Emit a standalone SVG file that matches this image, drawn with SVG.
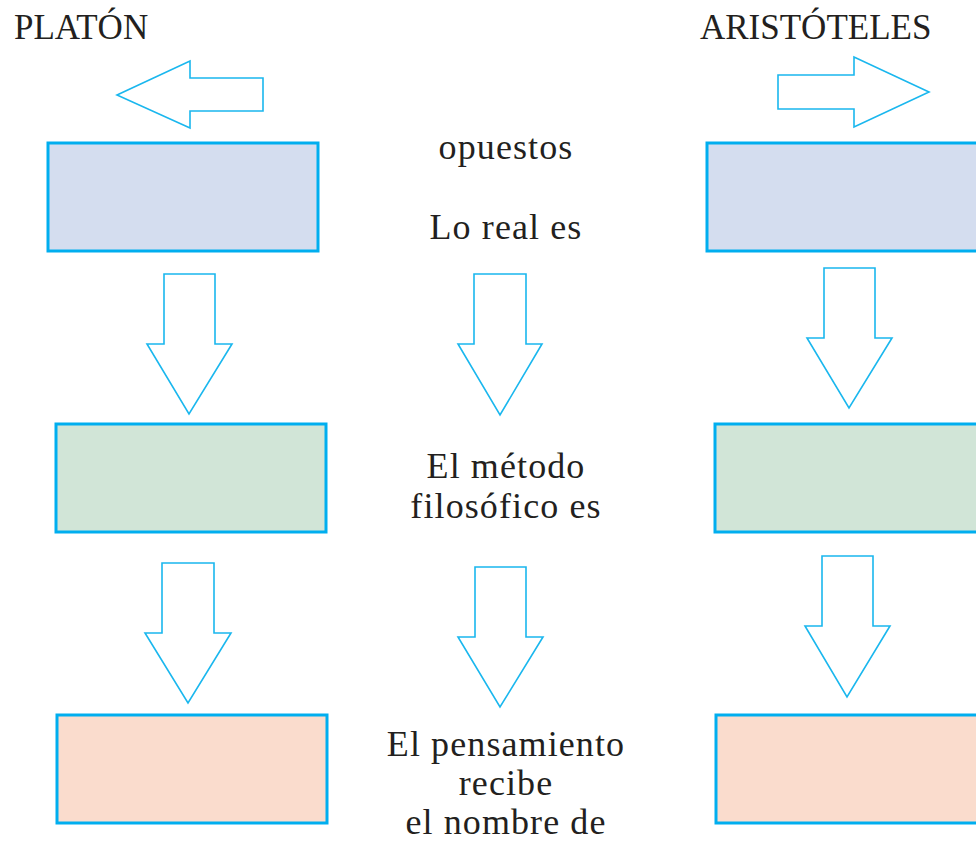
<svg xmlns="http://www.w3.org/2000/svg" width="976" height="843" viewBox="0 0 976 843">
<style>
.bg{fill:#ffffff}
.box{stroke:#00aeef;stroke-width:3}
.blue{fill:#d4ddef}
.green{fill:#d1e5d7}
.pink{fill:#fadccd}
.arr{fill:#ffffff;stroke:#1ab7ee;stroke-width:1.6;stroke-linejoin:miter}
.title{font-family:"Liberation Serif","Times New Roman",serif;font-size:35px;fill:#231f20}
.lbl{font-family:"Liberation Serif","Times New Roman",serif;font-size:36px;fill:#231f20;text-anchor:middle;letter-spacing:1.1px}
</style>
<rect class="bg" x="0" y="0" width="976" height="843"/>
<g id="title-platon"><text class="title" x="14" y="39">PLATÓN</text></g>
<g id="title-aristoteles"><text class="title" x="700" y="39">ARISTÓTELES</text></g>

<g id="platon-real"><rect class="box blue" x="48" y="143" width="270" height="108"/></g>
<g id="platon-metodo"><rect class="box green" x="56" y="424" width="270" height="108"/></g>
<g id="platon-pensamiento"><rect class="box pink" x="57" y="715" width="270" height="108"/></g>

<g id="aristoteles-real"><rect class="box blue" x="707" y="143" width="280" height="108"/></g>
<g id="aristoteles-metodo"><rect class="box green" x="715" y="424" width="280" height="108"/></g>
<g id="aristoteles-pensamiento"><rect class="box pink" x="716" y="715" width="280" height="108"/></g>

<g id="label-opuestos"><text class="lbl" x="506" y="159">opuestos</text></g>
<g id="label-real"><text class="lbl" x="506" y="239">Lo real es</text></g>
<g id="label-metodo"><text class="lbl" x="506" y="478">El método</text><text class="lbl" x="506" y="518">filosófico es</text></g>
<g id="label-pensamiento"><text class="lbl" x="506" y="756">El pensamiento</text><text class="lbl" x="506" y="795">recibe</text><text class="lbl" x="506" y="834">el nombre de</text></g>

<g id="connectors">
<polygon class="arr" points="117,95 190,61 190,78 263,78 263,111 190,111 190,128"/>
<polygon class="arr" points="929,92 854,57 854,75 778,75 778,109 854,109 854,127"/>
<polygon class="arr" points="164,274 215,274 215,344 232,344 189,414 147,344 164,344"/>
<polygon class="arr" points="474,274 526,274 526,344 542,344 500,415 458,344 474,344"/>
<polygon class="arr" points="824,268 875,268 875,338 892,338 849,408 807,338 824,338"/>
<polygon class="arr" points="162,563 214,563 214,633 231,633 188,703 145,633 162,633"/>
<polygon class="arr" points="475,567 526,567 526,637 543,637 500,707 458,637 475,637"/>
<polygon class="arr" points="822,556 873,556 873,626 890,626 847,697 805,626 822,626"/>
</g>
</svg>
